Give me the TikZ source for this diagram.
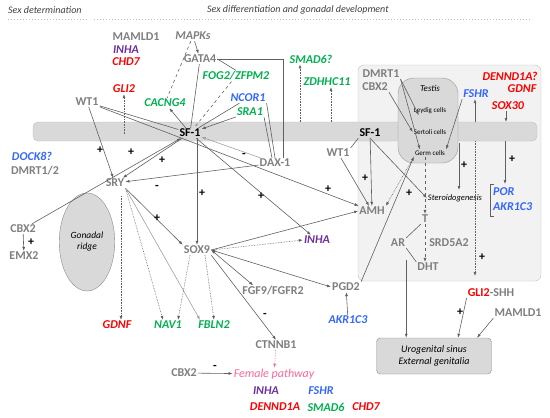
\documentclass[tikz,border=0pt]{standalone}
\usepackage{fontspec}
\setmainfont{Carlito}
\usepackage{tikz}
\usetikzlibrary{arrows.meta,shapes.geometric}

\definecolor{txtgray}{RGB}{127,127,127}
\definecolor{linegray}{RGB}{96,96,96}
\definecolor{lightline}{RGB}{160,160,160}
\definecolor{genered}{RGB}{255,0,0}
\definecolor{genegreen}{RGB}{0,176,80}
\definecolor{geneblue}{RGB}{51,102,255}
\definecolor{genepurple}{RGB}{112,48,160}
\definecolor{genepink}{RGB}{255,102,153}
\definecolor{bandfill}{RGB}{217,217,217}
\definecolor{boxfill}{RGB}{242,242,242}
\definecolor{boxdraw}{RGB}{191,191,191}

\tikzset{
  gene/.style={font=\fontsize{12}{13}\selectfont\bfseries, text=txtgray, inner sep=1pt},
  cgene/.style={gene, font=\fontsize{12}{13}\selectfont\bfseries\itshape},
  redgene/.style={cgene, text=genered},
  greengene/.style={cgene, text=genegreen},
  bluegene/.style={cgene, text=geneblue},
  purplegene/.style={cgene, text=genepurple},
  sfone/.style={gene, text=black},
  sign/.style={font=\fontsize{12}{12}\selectfont\bfseries, inner sep=0pt},
  cell/.style={font=\fontsize{7}{8}\selectfont, inner sep=1pt},
  link/.style={draw=linegray, line width=0.6pt},
  arr/.style={link, -{Latex[length=4pt,width=3pt]}},
  dotarr/.style={arr, densely dotted},
  twoarr/.style={link, {Latex[length=4pt,width=3pt]}-{Latex[length=4pt,width=3pt]}},
}

\begin{document}
\begin{tikzpicture}[x=1pt,y=-1pt]
\useasboundingbox (0,0) rectangle (550,418);

\node[anchor=west, font=\fontsize{10}{11}\selectfont\itshape, text=black!75, inner sep=0pt] (hdet) at (8,10) {Sex determination};
\node[anchor=west, font=\fontsize{10}{11}\selectfont\itshape, text=black!75, inner sep=0pt] (hdiff) at (207,10) {Sex differentiation and gonadal development};
\draw[boxdraw, line width=1pt, dotted] (8,19) -- (88,19);
\draw[boxdraw, line width=1pt, dotted] (94,19) -- (532,19);

\draw[draw=boxdraw, fill=boxfill, rounded corners=6pt] (358,65) rectangle (541,281);
\draw[draw=boxdraw, fill=bandfill, rounded corners=5pt] (33,122) rectangle (537,141);
\draw[draw=black!40, fill=bandfill, rounded corners=16pt] (398,78) rectangle (458,163);
\node[ellipse, draw=black!45, fill=bandfill, minimum width=40pt, minimum height=98pt, align=center, font=\fontsize{9.5}{11}\selectfont\itshape] (ridge) at (87,242) {Gonadal\\ridge};
\node[draw=black!45, fill=bandfill, rounded corners=4pt, minimum width=115pt, minimum height=36pt, align=center, font=\fontsize{10}{12}\selectfont\itshape] (uro) at (434,356) {Urogenital sinus\\External genitalia};

\node[font=\fontsize{9}{10}\selectfont\itshape, inner sep=1pt] (testis) at (430,88) {Testis};
\node[cell] (leydig) at (430,111) {Leydig cells};
\node[cell] (sertoli) at (430,132) {Sertoli cells};
\node[cell] (germ) at (430,153) {Germ cells};

\node[gene] (mamldA) at (136,37) {MAMLD1};
\node[purplegene] (inhaA) at (126,50) {INHA};
\node[redgene] (chdA) at (126,62) {CHD7};
\node[redgene] (gliA) at (124,89) {GLI2};
\node[gene] (wtA) at (87,102) {WT1};
\node[gene, font=\fontsize{12}{13}\selectfont\bfseries\itshape] (mapk) at (193,36) {MAPKs};
\node[gene] (gata) at (200,59) {GATA4};
\node[greengene] (cacng) at (165,103) {CACNG4};
\node[greengene] (fog) at (236,76) {FOG2/ZFPM2};
\node[bluegene] (ncor) at (248,98) {NCOR1};
\node[greengene] (sra) at (250,112) {SRA1};
\node[sfone] (sfA) at (190,133) {SF-1};
\node[greengene] (smadA) at (311,59) {SMAD6?};
\node[greengene] (zdh) at (327,82) {ZDHHC11};

\node[gene] (dmrt) at (381,74) {DMRT1};
\node[gene] (cbxB) at (375,87) {CBX2};
\node[redgene] (dennA) at (510,76) {DENND1A?};
\node[redgene] (gdnfA) at (522,89) {GDNF};
\node[redgene] (soxth) at (508,106) {SOX30};
\node[bluegene] (fshrA) at (476,94) {FSHR};
\node[sfone] (sfB) at (370,133) {SF-1};
\node[gene] (wtB) at (338,153) {WT1};
\node[gene] (amh) at (372,211) {AMH};
\node[font=\fontsize{8.5}{10}\selectfont\itshape, inner sep=1pt] (steroid) at (455,198) {Steroidogenesis};
\node[gene] (tst) at (425,219) {T};
\node[gene] (ar) at (398,243) {AR};
\node[gene] (srd) at (449,243) {SRD5A2};
\node[gene] (dht) at (428,267) {DHT};
\node[bluegene, anchor=west] (por) at (492,192) {POR};
\node[bluegene, anchor=west] (akrA) at (492,207) {AKR1C3};
\node[gene, text=txtgray] (glishh) at (491,293) {\textcolor{genered}{GLI2}-SHH};
\node[gene] (mamldB) at (518,313) {MAMLD1};

\node[bluegene] (dock) at (32,156) {DOCK8?};
\node[gene] (dmrtab) at (35,171) {DMRT1/2};
\node[gene] (sry) at (115,183) {SRY};
\node[gene] (cbxA) at (23,229) {CBX2};
\node[gene] (emx) at (24,256) {EMX2};
\node[gene] (sox) at (197,250) {SOX9};
\node[gene] (dax) at (275,163) {DAX-1};
\node[purplegene] (inhaB) at (317,240) {INHA};
\node[gene] (pgd) at (346,287) {PGD2};
\node[bluegene] (akrB) at (348,320) {AKR1C3};
\node[gene] (fgf) at (273,291) {FGF9/FGFR2};
\node[gene] (ctnn) at (276,345) {CTNNB1};
\node[cgene, text=genepink, font=\fontsize{12}{13}\selectfont\itshape] (female) at (274,374) {Female pathway};
\node[gene] (cbxC) at (184,373) {CBX2};
\node[redgene] (gdnfB) at (117,325) {GDNF};
\node[greengene] (nav) at (168,325) {NAV1};
\node[greengene] (fbln) at (214,325) {FBLN2};

\node[purplegene] (inhaC) at (266,391) {INHA};
\node[bluegene] (fshrB) at (321,391) {FSHR};
\node[redgene] (dennB) at (275,407) {DENND1A};
\node[greengene] (smadB) at (326,407) {SMAD6};
\node[redgene] (chdB) at (366,407) {CHD7};

\coordinate (gliS) at (124,134);
\coordinate (smadS) at (300,122);
\coordinate (zdhS) at (331,122);
\coordinate (fshrS) at (475,122);
\coordinate (soxthS) at (506,122);
\coordinate (steroidS) at (459,143);
\coordinate (steroidE) at (459,190);
\coordinate (dotS) at (475,141);
\coordinate (dotE) at (475,276);
\coordinate (porS) at (505,141);
\coordinate (porE) at (505,184);

\draw[dotarr] (gliS) -- (gliA);
\draw[arr] (mapk) -- (gata);
\draw[link, dashed] (mapk) -- (cacng);
\draw[link] (gata.east) -- (fog.north);
\draw[link] (gata.east) -| ([xshift=8pt]dax.north);
\draw[link] (gata) -- (sfA);
\draw[link, dashed] (fog) -- (sfA);
\draw[link] (ncor) -- (sfA);
\draw[link] (ncor.south east) -- (dax.north);
\draw[arr] (sra) -- (sfA);
\draw[link] (sra.south east) -- ([xshift=-3pt]dax.north);
\draw[arr] (sfA) -- (cacng);
\draw[link] (wtA) -- (sfA);
\draw[arr] (wtA) -- (amh);
\draw[arr] (wtA) -- (sry);
\draw[arr] (cbxA) -- (sfA);
\draw[arr] (sfA) -- (sry);
\draw[arr] (dax) -- (sry);
\draw[arr, draw=lightline] (dax) -- (sfA);
\draw[arr] (sox.north |- sfA.south) -- (sox.north);
\draw[arr] (sfA) -- (inhaB);
\draw[arr] (cbxA) -- (emx);

\draw[arr] (sry.south east) -- (sox.north west);
\draw[dotarr] ([xshift=6pt,yshift=-8pt]sry.south) -- ([xshift=4pt]gdnfB.north);
\draw[dotarr] (sry.south east) -- ([xshift=-5pt]nav.north);
\draw[arr, draw=lightline] (sry.south east) -- ([xshift=-14pt]fbln.north);
\draw[dotarr] ([xshift=-7pt]sox.south) -- ([xshift=10pt]nav.north);
\draw[dotarr] ([xshift=8pt]sox.south) -- (fbln.north);
\draw[arr] (sox.east) -- (amh.west);
\draw[dotarr] (sox.east) -- (inhaB.west);
\draw[twoarr] (sox.east) -- (pgd.west);
\draw[twoarr] (sox.east) -- ([xshift=12pt]fgf.north west);
\draw[arr] (sox.south east) -- (ctnn.north);
\draw[dotarr, draw=genepink] (ctnn) -- (female);
\draw[arr] (cbxC) -- (female);
\draw[arr] (akrB) -- (pgd);
\draw[arr] (pgd.north east) -- (germ.south west);

\draw[dotarr] (smadS) -- (smadS |- smadA.south);
\draw[dotarr] (zdhS) -- (zdhS |- zdh.south);
\draw[arr] (fshrS) -- (fshrS |- fshrA.south);
\draw[arr] (soxthS |- soxth.south) -- (soxthS);

\draw[arr] (dmrt.south east) -- ([xshift=6pt]leydig.south west);
\draw[arr] (dmrt.south east) -- ([xshift=6pt]germ.north west);
\draw[arr] (cbxB.south east) -- (sertoli.west);
\draw[arr] (fshrA.south west) -- (germ.north east);
\draw[dotarr] (germ.south west) -- (amh.north east);
\draw[arr, dashed] (tst |- germ.south) -- (tst.north);
\draw[arr, dashed] (tst.south) -- (tst.south |- dht.north);
\draw[link] (tst.south west) -- (ar.north east);
\draw[link] (ar.south east) -- (dht.north west);
\draw[link] (wtB.north east) -- (sfB.south west);
\draw[arr] (wtB) -- (amh);
\draw[arr] (sfB) -- (amh);
\draw[arr] (sfB.south) -- (steroid.west);
\draw[arr] (steroidS) -- (steroidE);
\draw[arr] (porS) -- (porE);
\draw[dotarr] (dotS) -- (dotE);
\draw[link] (494,184) -- (490,184) -- (490,216) -- (494,216);
\draw[arr] ([yshift=-12pt]ar.south east) -- (ar.south east |- uro.north);
\draw[arr] (glishh.south west) -- ([xshift=24pt]uro.north);
\draw[arr] (mamldB.south west) -- ([xshift=43pt]uro.north);

\node[sign] (p1) at (100,150) {+};
\node[sign] (p2) at (131,152) {+};
\node[sign] (p3) at (162,160) {+};
\node[sign] (p4) at (157,218) {+};
\node[sign] (p5) at (202,193) {+};
\node[sign] (p6) at (261,196) {+};
\node[sign] (p7) at (328,189) {+};
\node[sign] (p8) at (365,178) {+};
\node[sign] (p9) at (409,193) {+};
\node[sign] (p10) at (464,165) {+};
\node[sign] (p11) at (512,159) {+};
\node[sign] (p12) at (482,257) {+};
\node[sign] (p13) at (460,312) {+};
\node[sign] (p14) at (31,242) {+};
\node[sign] (m1) at (157,187) {-};
\node[sign] (m2) at (244,155) {-};
\node[sign] (m3) at (265,315) {-};
\node[sign] (m4) at (215,367) {-};
\end{tikzpicture}
\end{document}
